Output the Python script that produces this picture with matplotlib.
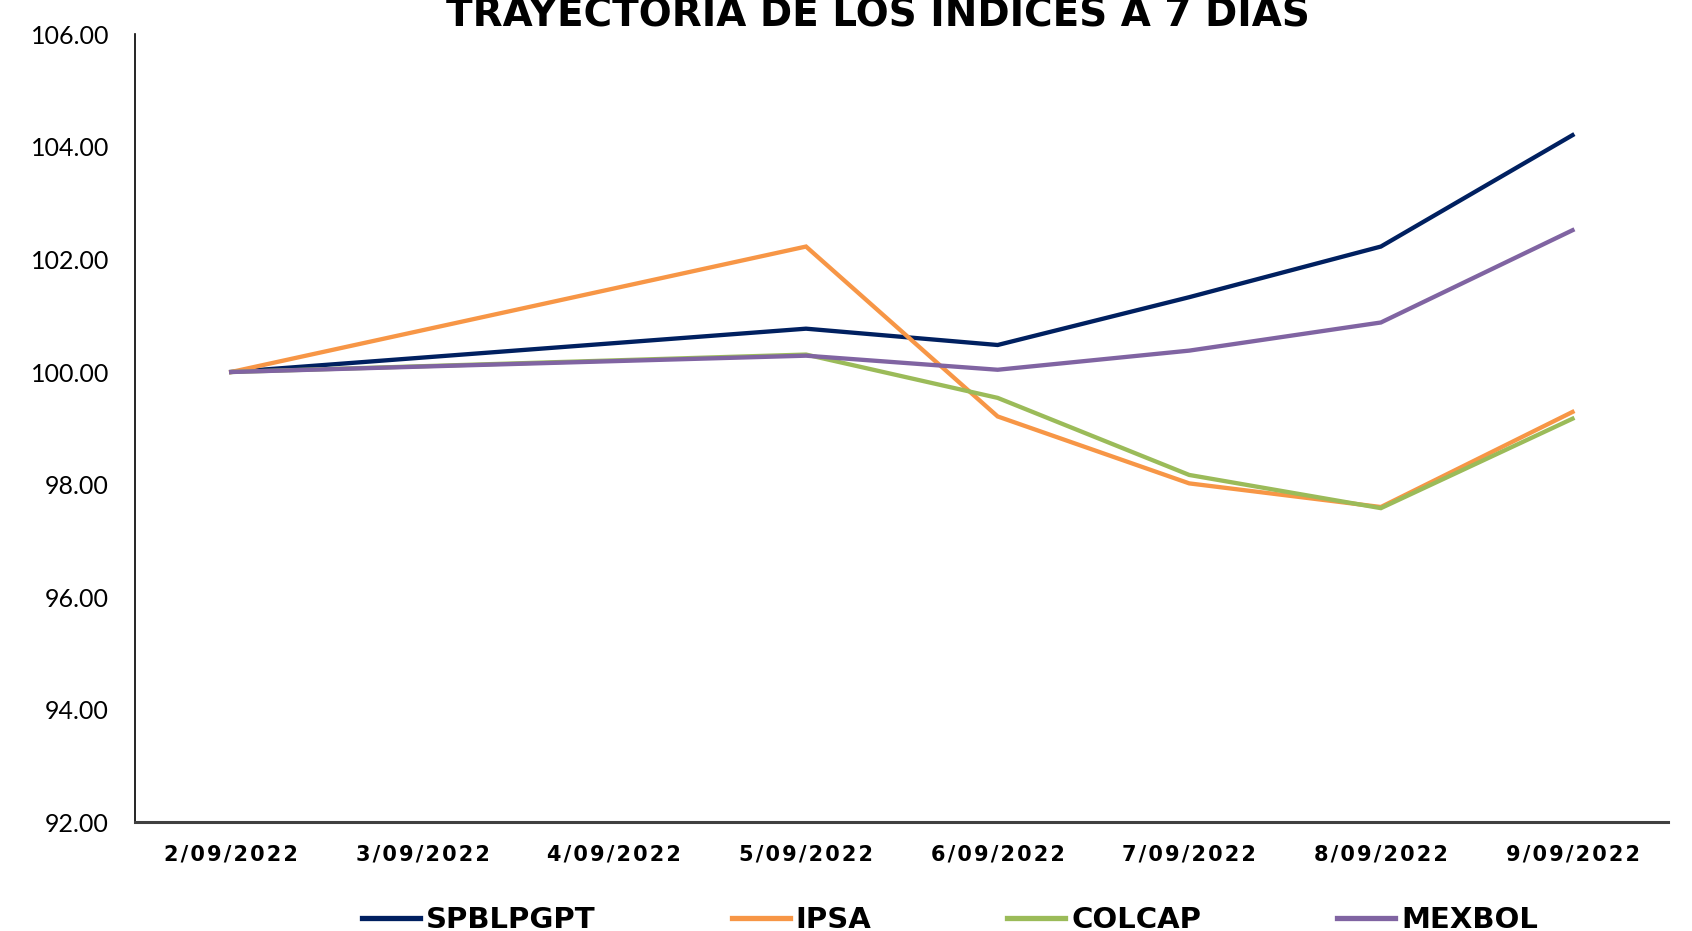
import numpy as np
import matplotlib
matplotlib.use("Agg")
import matplotlib.pyplot as plt
from matplotlib.ticker import FormatStrFormatter

# datos (3 y 4 de sept sin dato: fin de semana)
fechas = ['2/09/2022', '3/09/2022', '4/09/2022', '5/09/2022',
          '6/09/2022', '7/09/2022', '8/09/2022', '9/09/2022']
spblpgpt = [100.00, np.nan, np.nan, 100.77, 100.48, 101.33, 102.23, 104.21]
ipsa = [100.00, np.nan, np.nan, 102.23, 99.21, 98.02, 97.60, 99.29]
colcap = [100.00, np.nan, np.nan, 100.31, 99.54, 98.17, 97.58, 99.17]
mexbol = [100.00, np.nan, np.nan, 100.29, 100.04, 100.38, 100.88, 102.52]

series = [('SPBLPGPT', spblpgpt, '#002060'),
          ('IPSA', ipsa, '#F79646'),
          ('COLCAP', colcap, '#9BBB59'),
          ('MEXBOL', mexbol, '#8064A2')]

fig = plt.figure(figsize=(16.92, 9.31), dpi=100)
ax = fig.add_axes([0.080, 0.117, 0.906, 0.846])

x = np.arange(len(fechas))
for name, vals, color in series:
    vals = np.array(vals, dtype=float)
    ok = ~np.isnan(vals)
    ax.plot(x[ok], vals[ok], color=color, lw=3.1, label=name,
            solid_joinstyle='miter')

ax.set_xlim(-0.5, len(fechas) - 0.5)
ax.set_ylim(92, 106)
ax.set_yticks(np.arange(92, 107, 2))
ax.yaxis.set_major_formatter(FormatStrFormatter('%.2f'))
ax.set_xticks(x)
# espaciado entre caracteres como en Excel (hair space)
ax.set_xticklabels(['\u200a'.join(f) for f in fechas],
                   fontfamily='DejaVu Sans', fontweight='bold', fontsize=15)
for lab in ax.get_yticklabels():
    lab.set_fontfamily('Lato')
    lab.set_fontsize(18)
ax.tick_params(axis='y', length=0, pad=19)
ax.tick_params(axis='x', length=0, pad=16)

for s in ['top', 'right']:
    ax.spines[s].set_visible(False)
ax.spines['left'].set_color('black')
ax.spines['left'].set_linewidth(1.2)
ax.spines['bottom'].set_color('#404040')
ax.spines['bottom'].set_linewidth(2.2)

fig.text(0.519, 0.971, 'TRAYECTORIA DE LOS ÍNDICES A 7 DÍAS',
         ha='center', va='baseline', fontsize=28, fontweight='bold',
         fontfamily='DejaVu Sans')

leg = fig.legend(loc='center', bbox_to_anchor=(0.5615, 0.012), ncol=4,
                 frameon=False, handlelength=2.0, handletextpad=0.2,
                 columnspacing=4.65,
                 prop={'family': 'DejaVu Sans', 'weight': 'bold', 'size': 21})
for line in leg.get_lines():
    line.set_linewidth(3.8)

fig.savefig('out.png', dpi=100)
